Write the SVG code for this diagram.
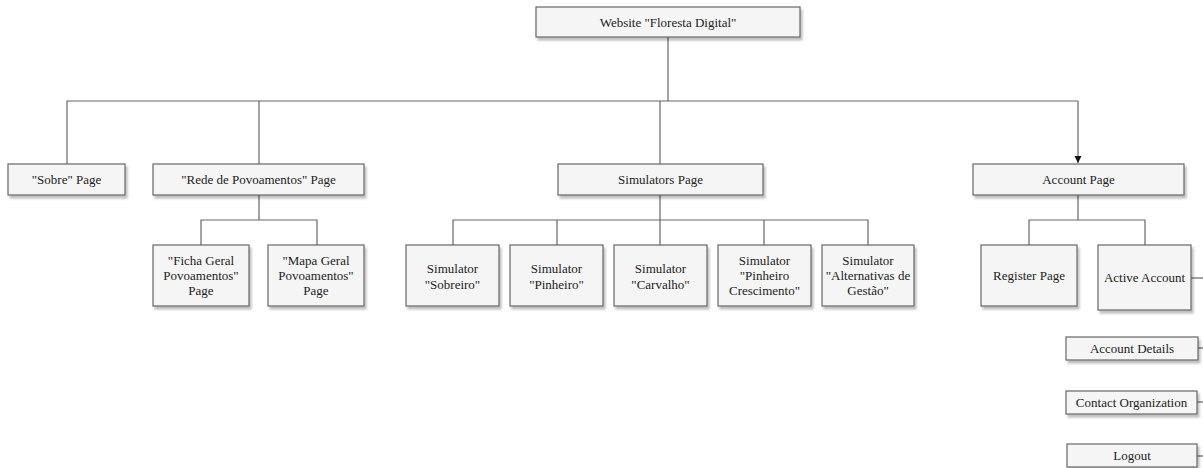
<svg xmlns="http://www.w3.org/2000/svg" width="1203" height="468" viewBox="0 0 1203 468">
<style>
.box{fill:#f5f5f5;stroke:#666666;stroke-width:1.2;filter:url(#sh)}
.t{font-size:13px;fill:#222;text-anchor:middle;dominant-baseline:central}
.c{fill:none;stroke:#666666;stroke-width:1.2}
</style>
<defs>
<filter id="sh" x="-10%" y="-20%" width="130%" height="160%">
<feDropShadow dx="2" dy="3" stdDeviation="1.2" flood-color="#000" flood-opacity="0.25"/>
</filter>
<marker id="arr" markerWidth="8" markerHeight="8" refX="7" refY="4" orient="auto" markerUnits="userSpaceOnUse">
<path d="M0,0.5 L7,4 L0,7.5 Z" fill="#111"/>
</marker>
</defs>
<g id="connectors">
<path class="c" d="M668,37 V101"/>
<path class="c" d="M67,164 V101 H1078"/>
<path class="c" d="M259,101 V164"/>
<path class="c" d="M660,101 V164"/>
<path class="c" d="M1078,101 V163" marker-end="url(#arr)"/>
<path class="c" d="M259,195 V220 M201,245 V220 H317 V245"/>
<path class="c" d="M660,195 V245 M453,245 V220 H868 V245 M557,220 V245 M764,220 V245"/>
<path class="c" d="M1078,195 V220 M1029,245 V220 H1145 V245"/>
<path class="c" d="M1191,278 H1210"/>
<path class="c" d="M1198,348 H1210"/>
<path class="c" d="M1197,402 H1210"/>
<path class="c" d="M1197,456 H1210"/>
</g>
<g font-family="Liberation Serif, DejaVu Serif, Times New Roman, serif">
<g id="website"><rect class="box" x="536" y="7" width="264" height="30"/><text class="t" x="668" y="22">Website "Floresta Digital"</text></g>
<g id="sobre"><rect class="box" x="8" y="164" width="117" height="31"/><text class="t" x="66.5" y="179.5">"Sobre" Page</text></g>
<g id="rede"><rect class="box" x="153" y="164" width="211" height="31"/><text class="t" x="258.5" y="179.5">"Rede de Povoamentos" Page</text></g>
<g id="simulators"><rect class="box" x="558" y="164" width="205" height="31"/><text class="t" x="660.5" y="179.5">Simulators Page</text></g>
<g id="account"><rect class="box" x="973" y="164" width="211" height="31"/><text class="t" x="1078.5" y="179.5">Account Page</text></g>
<g id="ficha"><rect class="box" x="153" y="245" width="96" height="61"/><text class="t" x="201" y="260.5">"Ficha Geral</text><text class="t" x="201" y="275.5">Povoamentos"</text><text class="t" x="201" y="290.5">Page</text></g>
<g id="mapa"><rect class="box" x="268" y="245" width="96" height="61"/><text class="t" x="316" y="260.5">"Mapa Geral</text><text class="t" x="316" y="275.5">Povoamentos"</text><text class="t" x="316" y="290.5">Page</text></g>
<g id="sim-sobreiro"><rect class="box" x="406" y="245" width="93" height="61"/><text class="t" x="452.5" y="268">Simulator</text><text class="t" x="452.5" y="284">"Sobreiro"</text></g>
<g id="sim-pinheiro"><rect class="box" x="510" y="245" width="93" height="61"/><text class="t" x="556.5" y="268">Simulator</text><text class="t" x="556.5" y="284">"Pinheiro"</text></g>
<g id="sim-carvalho"><rect class="box" x="614" y="245" width="93" height="61"/><text class="t" x="660.5" y="268">Simulator</text><text class="t" x="660.5" y="284">"Carvalho"</text></g>
<g id="sim-crescimento"><rect class="box" x="718" y="245" width="93" height="61"/><text class="t" x="764.5" y="260.5">Simulator</text><text class="t" x="764.5" y="275.5">"Pinheiro</text><text class="t" x="764.5" y="290.5">Crescimento"</text></g>
<g id="sim-alternativas"><rect class="box" x="822" y="245" width="92" height="61"/><text class="t" x="868" y="260.5">Simulator</text><text class="t" x="868" y="275.5">"Alternativas de</text><text class="t" x="868" y="290.5">Gestão"</text></g>
<g id="register"><rect class="box" x="981" y="245" width="96" height="61"/><text class="t" x="1029" y="275.5">Register Page</text></g>
<g id="active"><rect class="box" x="1098" y="245" width="93" height="65"/><text class="t" x="1144.5" y="277.5">Active Account</text></g>
<g id="details"><rect class="box" x="1066" y="337" width="132" height="23"/><text class="t" x="1132" y="348.5">Account Details</text></g>
<g id="contact"><rect class="box" x="1066" y="391" width="131" height="23"/><text class="t" x="1131.5" y="402.5">Contact Organization</text></g>
<g id="logout"><rect class="box" x="1067" y="444" width="130" height="23"/><text class="t" x="1132" y="455.5">Logout</text></g>
</g>
</svg>
